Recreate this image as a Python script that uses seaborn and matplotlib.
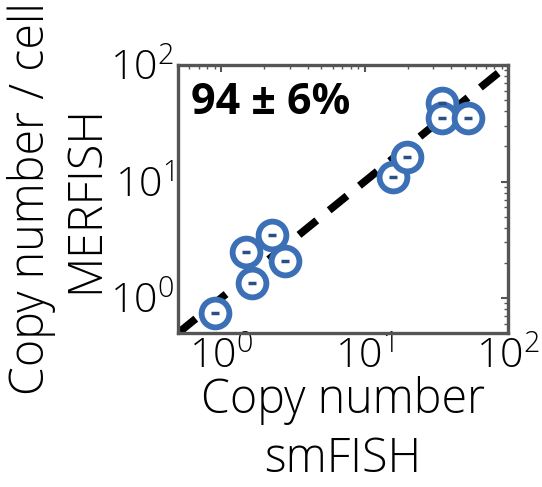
import matplotlib
matplotlib.use("Agg")
import matplotlib.pyplot as plt
import seaborn as sns
import pandas as pd
from matplotlib.ticker import LogLocator, NullFormatter

# Copy numbers per cell: smFISH (x) against MERFISH (y)
smfish = [0.91, 1.64, 1.49, 2.25, 2.79, 15.8, 19.9, 34.4, 34.4, 52.8]
merfish = [0.74, 1.34, 2.50, 3.47, 2.09, 10.9, 16.1, 46.9, 34.9, 34.9]
annotation = "94 ± 6%"
axis_limits = [0.5, 100]

df = pd.DataFrame({"smFISH": smfish, "MERFISH": merfish})

sns.set_style("white")
plt.rcParams["font.family"] = ["Open Sans", "DejaVu Sans"]
plt.rcParams["font.weight"] = "light"
plt.rcParams["mathtext.fontset"] = "custom"
plt.rcParams["mathtext.rm"] = "Open Sans:light"
plt.rcParams["text.color"] = "black"
plt.rcParams["axes.labelcolor"] = "black"
plt.rcParams["axes.labelweight"] = "light"
plt.rcParams["xtick.labelcolor"] = "black"
plt.rcParams["ytick.labelcolor"] = "black"

fig = plt.figure(figsize=(5.42, 4.87), dpi=100)
ax = fig.add_axes([0.3284, 0.316, 0.609, 0.5505])

blue = "#3b6fb6"

# identity line
ax.plot(axis_limits, axis_limits, color="black", lw=5.5,
        dashes=(3.0, 2.1), solid_capstyle="butt", zorder=2)

sns.scatterplot(data=df, x="smFISH", y="MERFISH", ax=ax, s=400,
                facecolor="white", edgecolor=blue, linewidth=4.2,
                zorder=3, legend=False)
sns.scatterplot(data=df, x="smFISH", y="MERFISH", ax=ax, s=35,
                marker="_", color="#2a4f86", linewidth=2.5, zorder=4,
                legend=False)

ax.set_xscale("log")
ax.set_yscale("log")
ax.set_xlim(axis_limits)
ax.set_ylim(axis_limits)
ax.set_xticks([1, 10, 100])
ax.set_yticks([1, 10, 100])
ax.set_xticklabels([r"$10^0$", r"$10^1$", r"$10^2$"])
ax.set_yticklabels([r"$10^0$", r"$10^1$", r"$10^2$"])
ax.xaxis.set_minor_locator(LogLocator(base=10, subs=range(2, 10)))
ax.yaxis.set_minor_locator(LogLocator(base=10, subs=range(2, 10)))
ax.xaxis.set_minor_formatter(NullFormatter())
ax.yaxis.set_minor_formatter(NullFormatter())
ax.tick_params(which="both", direction="in", top=True, right=True,
               color="#555555", labelsize=29.5, pad=3)
ax.tick_params(which="major", length=5, width=1.5)
ax.tick_params(which="minor", length=3, width=1)

for sp in ax.spines.values():
    sp.set_color("#555555")
    sp.set_linewidth(2.4)

ax.set_xlabel("Copy number\nsmFISH", fontsize=33.5, linespacing=1.3, labelpad=-2)
ax.set_ylabel("Copy number / cell\nMERFISH", fontsize=33.5, linespacing=1.15, labelpad=0)

ax.text(0.04, 0.94, annotation, transform=ax.transAxes, fontsize=31,
        fontweight="bold", va="top", ha="left")

fig.savefig("out.png", dpi=100)
